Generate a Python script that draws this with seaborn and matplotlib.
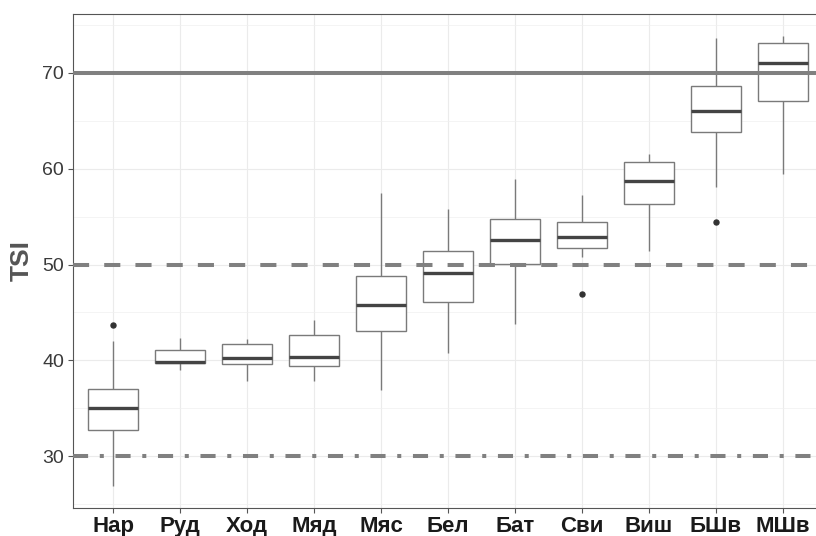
import numpy as np
import pandas as pd
import matplotlib
matplotlib.use("Agg")
import matplotlib.pyplot as plt
from matplotlib.ticker import MultipleLocator
import seaborn as sns

# Trophic State Index summary per lake
lakes = ["Нар", "Руд", "Ход", "Мяд", "Мяс", "Бел", "Бат", "Сви", "Виш", "БШв", "МШв"]
whisker_low = [26.97, 38.97, 37.82, 37.82, 36.96, 40.79, 43.81, 50.80, 51.39, 58.11, 59.42]
q1 = [32.80, 39.74, 39.67, 39.39, 43.04, 46.07, 50.10, 51.67, 56.33, 63.80, 67.08]
median = [35.05, 39.88, 40.30, 40.40, 45.80, 49.13, 52.54, 52.89, 58.66, 65.96, 71.04]
q3 = [37.03, 41.10, 41.73, 42.62, 48.82, 51.39, 54.77, 54.41, 60.67, 68.57, 73.03]
whisker_high = [42.07, 42.35, 42.28, 44.26, 57.40, 55.74, 58.90, 57.23, 61.51, 73.65, 73.76]
outliers_low = {"Сви": 46.94, "БШв": 54.41}
outliers_high = {"Нар": 43.67}

# Trophic class boundaries: eutrophic / mesotrophic / oligotrophic
trophic_levels = [70, 50, 30]
level_styles = ["solid", "dashed", "dashdot"]

# Nine observations per lake, placed so the quartiles land on the summary values
rows = []
for i, lake in enumerate(lakes):
    if lake in outliers_low:
        lower = [outliers_low[lake], whisker_low[i]]
    else:
        lower = [whisker_low[i], q1[i]]
    if lake in outliers_high:
        upper = [whisker_high[i], outliers_high[lake]]
    else:
        upper = [q3[i], whisker_high[i]]
    values = lower + [q1[i], median[i], median[i], median[i], q3[i]] + upper
    rows += [{"lake": lake, "TSI": v} for v in values]
df = pd.DataFrame(rows)

sns.set_theme(style="white")
plt.rcParams["font.family"] = ["Liberation Sans", "DejaVu Sans"]

W, H = 816, 536
fig = plt.figure(figsize=(W / 100, H / 100), dpi=100)
ax = fig.add_axes([73 / W, (H - 508) / H, (823 - 73) / W, (508 - 14) / H])

sns.boxplot(
    data=df, x="lake", y="TSI", order=lakes, ax=ax,
    color="white", saturation=1, linecolor="#7a7a7a", linewidth=1.0,
    width=0.75, showcaps=False, fliersize=3.6,
    medianprops=dict(color="#444444", linewidth=2.4, solid_capstyle="butt"),
    flierprops=dict(marker="o", markerfacecolor="#333333", markeredgecolor="#333333"),
)

line_kw = dict(color="#808080", linewidth=2.9, zorder=5)
for level, style in zip(trophic_levels, level_styles):
    ln = ax.axhline(level, **line_kw)
    if style == "dashed":
        ln.set_dashes((4.0, 3.75))
    elif style == "dashdot":
        ln.set_dashes((3.75, 2.9, 1.0, 2.9))

# y range with 5 % padding around all observations
lo, hi = df["TSI"].min(), df["TSI"].max()
pad = 0.05 * (hi - lo)
ax.set_ylim(lo - pad, hi + pad)
ax.set_xlim(-0.6, len(lakes) - 0.4)

ax.yaxis.set_major_locator(MultipleLocator(10))
ax.yaxis.set_minor_locator(MultipleLocator(5))
ax.set_axisbelow(True)
ax.grid(which="major", color="#EBEBEB", linewidth=0.8)
ax.grid(which="minor", axis="y", color="#F0F0F0", linewidth=0.5)

for side in ["left", "bottom", "top", "right"]:
    ax.spines[side].set_visible(True)
    ax.spines[side].set_color("#555555")
    ax.spines[side].set_linewidth(0.8)

ax.tick_params(which="major", direction="out", length=3.6, width=0.8, color="#555555")
ax.tick_params(which="minor", length=0)
ax.tick_params(axis="y", labelsize=14, labelcolor="#3a3a3a", pad=2.9, left=True)
ax.tick_params(axis="x", labelsize=16, labelcolor="#1a1a1a", pad=2, bottom=True)
for lbl in ax.get_xticklabels():
    lbl.set_fontweight("bold")

ax.set_xlabel("")
ax.set_ylabel("TSI", fontsize=19, fontweight="bold", color="#555555", labelpad=6)

fig.savefig("out.png", dpi=100)
